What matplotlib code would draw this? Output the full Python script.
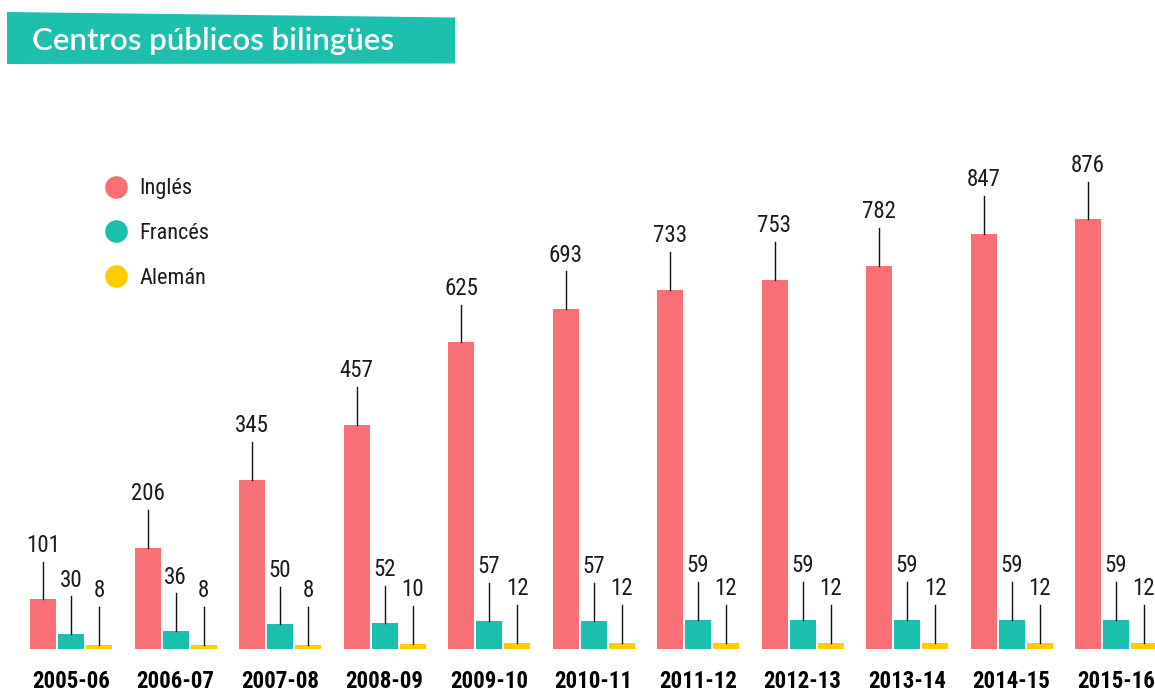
import numpy as np
import matplotlib
matplotlib.use("Agg")
import matplotlib.pyplot as plt
from matplotlib.patches import Polygon

# data
cursos = ['2005-06', '2006-07', '2007-08', '2008-09', '2009-10', '2010-11',
          '2011-12', '2012-13', '2013-14', '2014-15', '2015-16']
ingles = [101, 206, 345, 457, 625, 693, 733, 753, 782, 847, 876]
frances = [30, 36, 50, 52, 57, 57, 59, 59, 59, 59, 59]
aleman = [8, 8, 8, 10, 12, 12, 12, 12, 12, 12, 12]

series = [('Inglés', ingles, '#F87076'),
          ('Francés', frances, '#1BBFAE'),
          ('Alemán', aleman, '#FFCC00')]

W, H = 1155, 693
FONT = ['Roboto Condensed', 'DejaVu Sans']

fig = plt.figure(figsize=(W / 100, H / 100), dpi=100)

# axes placed so the baseline sits at y=648.7px and 1 group = 104.5px
base_px = 648.7
px_per_unit = 0.49
ax = fig.add_axes([0, (H - base_px) / H, 1, base_px / H])
ax.set_ylim(0, base_px / px_per_unit)
ax.set_xlim(-71 / 104.5, (W - 71) / 104.5)
ax.axis('off')

x = np.arange(len(cursos))
width = 26 / 104.5
step = 28 / 104.5
line_len = 37.7 / px_per_unit  # leader length in data units

for k, (name, vals, color) in enumerate(series):
    xs = x + (k - 1) * step
    ax.bar(xs, vals, width=width, color=color, linewidth=0)
    for xi, v in zip(xs, vals):
        ax.plot([xi, xi], [v, v + line_len], color='#111111', lw=1.0)
        ax.annotate(str(v), (xi, v), xytext=(0, 47.5 / 1.389),
                    textcoords='offset points', ha='center', va='baseline',
                    fontsize=16.5, family=FONT, color='#1a1a1a',
                    annotation_clip=False)

# curso labels under the groups
for xi, lab in zip(x, cursos):
    ax.annotate(lab, (xi, 0), xytext=(0, -39.5 / 1.389),
                textcoords='offset points', ha='center', va='baseline',
                fontsize=16.5, fontweight='bold', family=FONT, color='black',
                annotation_clip=False)

# legend
for k, (name, vals, color) in enumerate(series):
    py = 186.5 + k * 44.5
    ax.scatter([116 / W], [1 - py / H], s=265, color=color,
               transform=fig.transFigure, clip_on=False, linewidths=0)
    fig.text(139 / W, 1 - (py + 8) / H, name, fontsize=16, family=FONT,
             color='#1a1a1a', va='baseline', ha='left')

# title banner (slightly skewed)
pts = [(7, 12), (455, 17.5), (455, 63.5), (7, 64)]
banner = Polygon([(px / W, 1 - py / H) for px, py in pts], closed=True,
                 transform=fig.transFigure, color='#1DBFAD', lw=0)
fig.add_artist(banner)
fig.text(32 / W, 1 - 50 / H, 'Centros públicos bilingües', fontsize=22.5,
         fontweight=600, family=['Lato', 'DejaVu Sans'], color='white',
         va='baseline', ha='left')

fig.savefig('out.png', dpi=100)
